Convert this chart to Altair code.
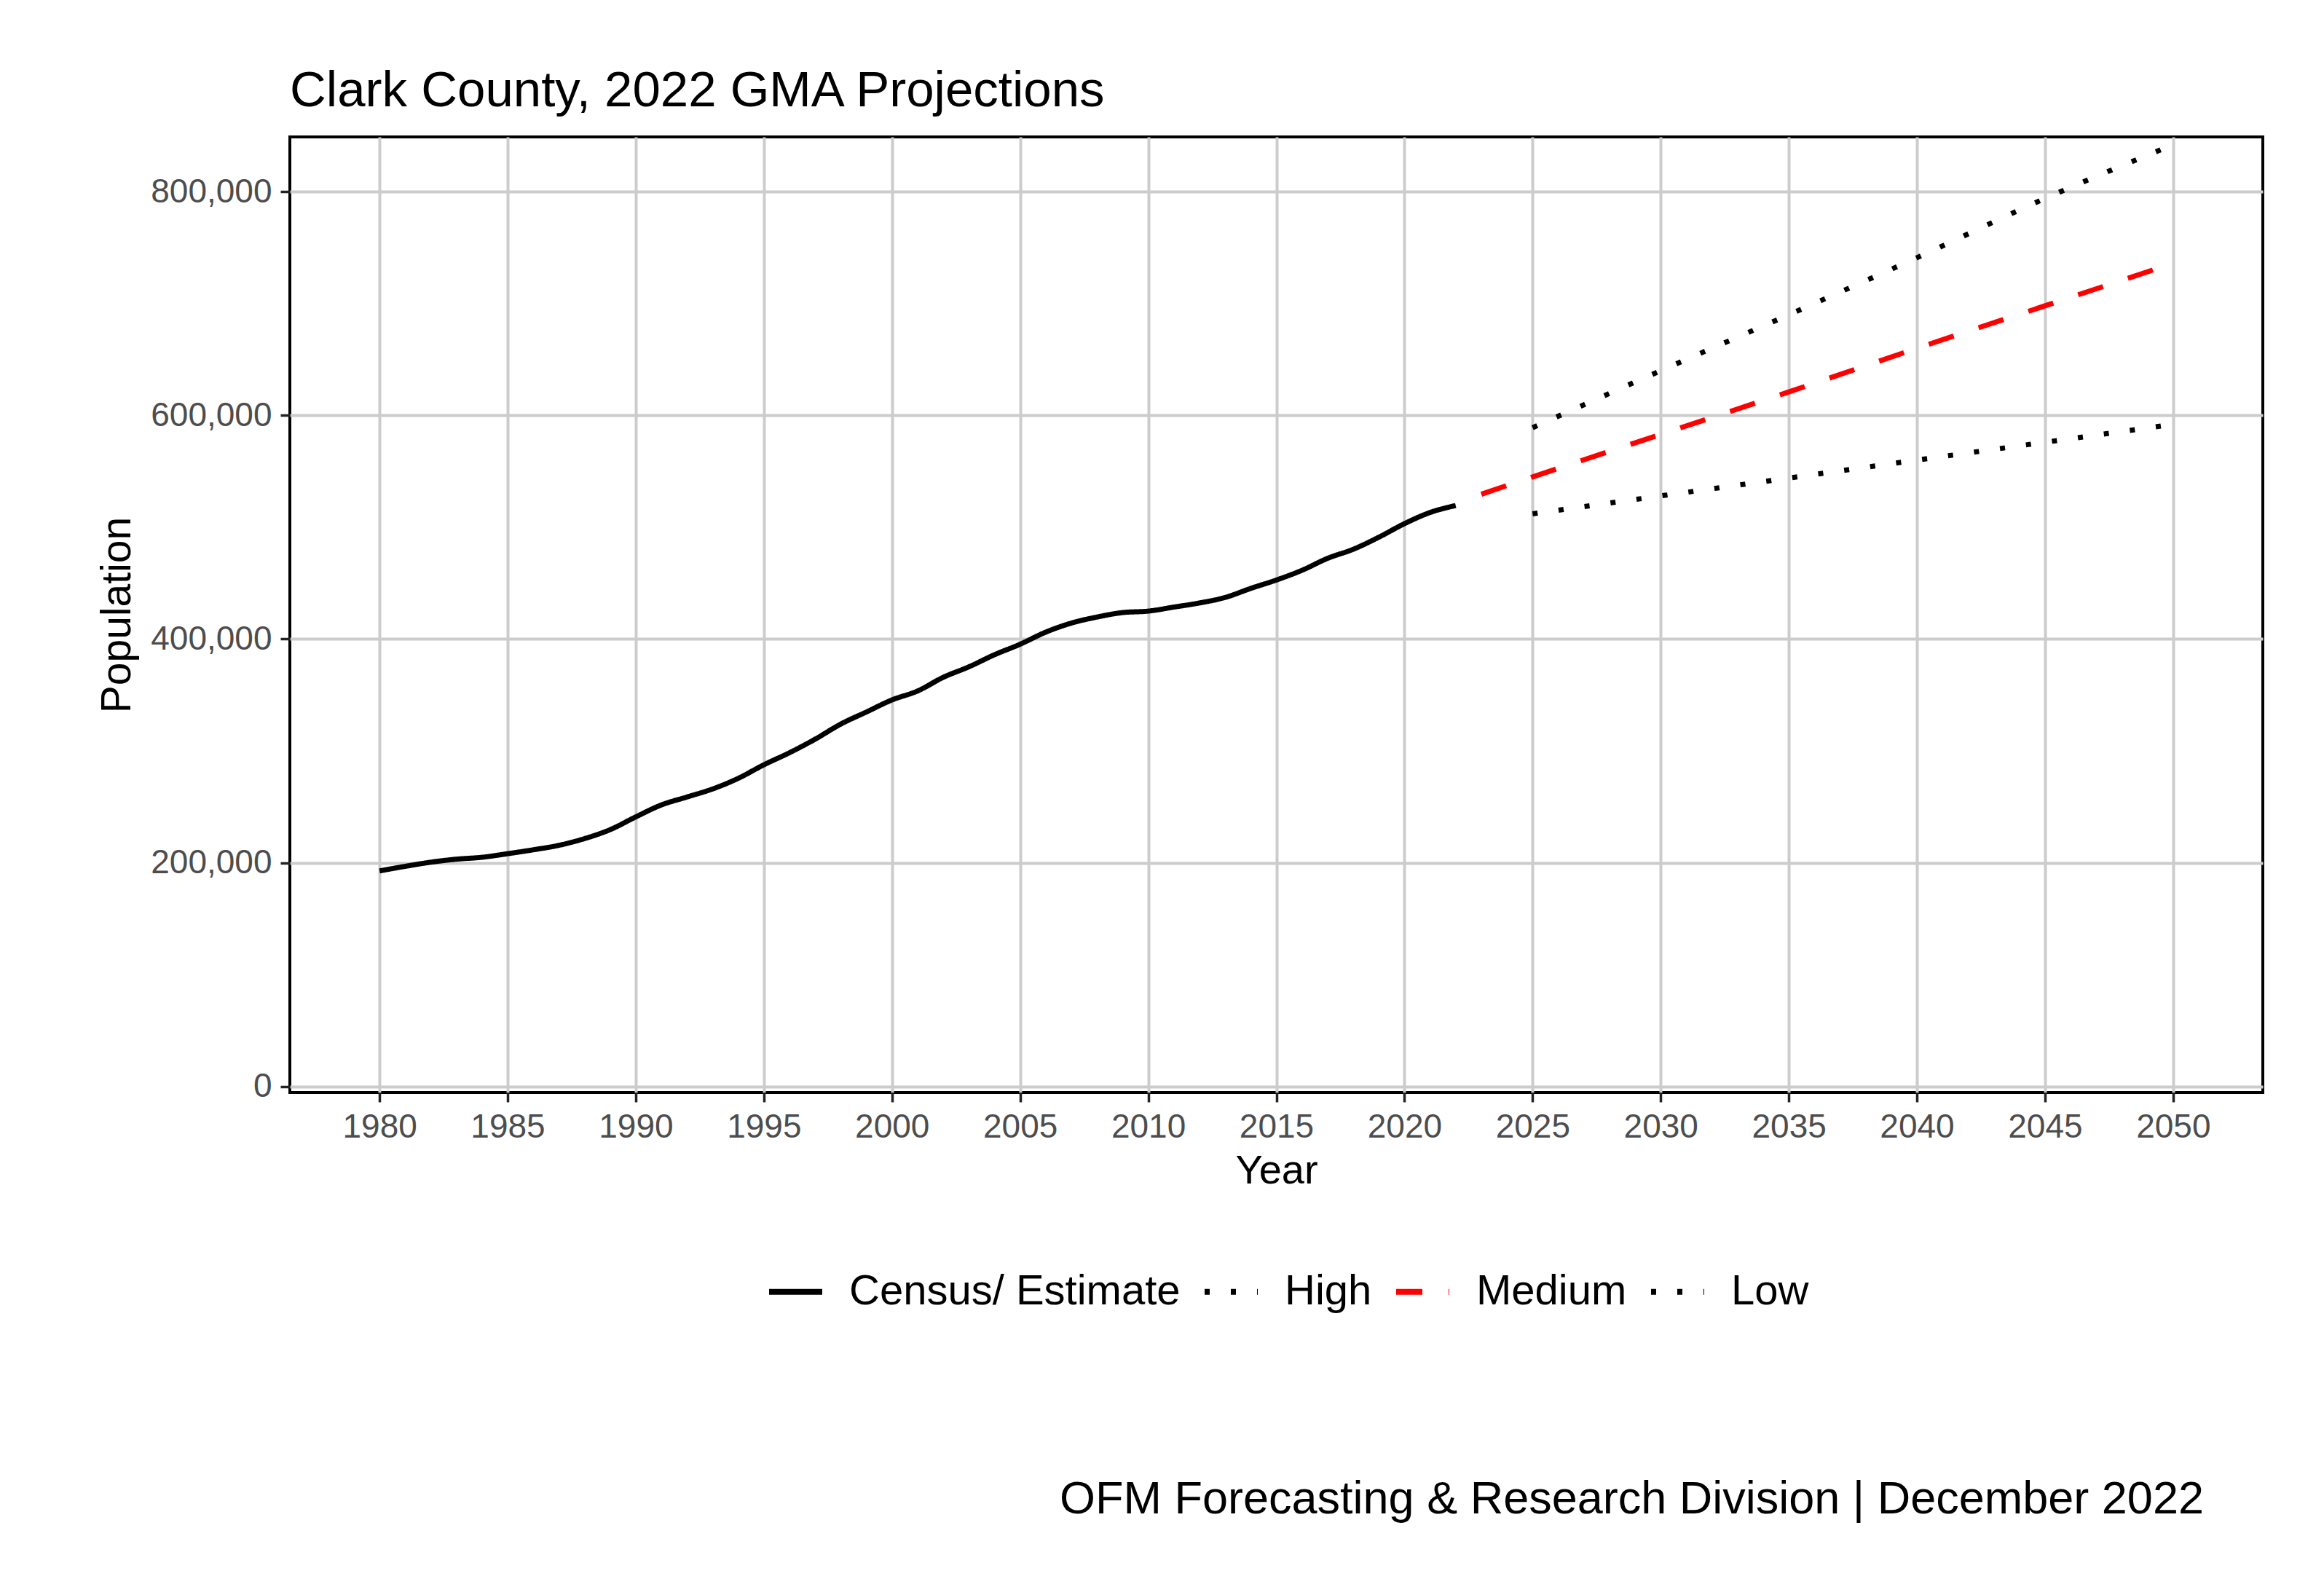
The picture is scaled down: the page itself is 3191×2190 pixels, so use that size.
import altair as alt
import pandas as pd

# ---- data ----
census_years = list(range(1980, 2023))
census_pop = [192700, 196800, 200500, 203200, 204900, 208100, 211600, 215600, 221600, 229600,
              241000, 251700, 258800, 266000, 275500, 287600, 298400, 310500, 324000, 334800,
              345600, 353600, 365800, 375200, 386000, 395400, 406200, 414300, 419700, 423700,
              425000, 428600, 432300, 437200, 445300, 452800, 461500, 472200, 480300, 491100,
              503200, 513200, 519400]

proj_years = [2025, 2030, 2035, 2040, 2045, 2050]
high_pop = [589000, 640000, 690000, 741000, 794000, 842000]
low_pop = [512000, 528000, 544000, 560000, 576000, 592000]
medium_years = [2023, 2025, 2030, 2035, 2040, 2045, 2050]
medium_pop = [529500, 545000, 583000, 621000, 660000, 698000, 736000]

series_names = ["Census/ Estimate", "High", "Medium", "Low"]
series_colors = ["#000000", "#000000", "#ff0000", "#000000"]
series_dash = [[1, 0], [7, 29], [36, 36], [7, 29]]

x_ticks = list(range(1980, 2051, 5))
y_ticks = [0, 200000, 400000, 600000, 800000]

title_text = "Clark County, 2022 GMA Projections"
footer_text = "OFM Forecasting & Research Division | December 2022"

# ---- build table ----
rows = []
for yr, p in zip(census_years, census_pop):
    rows.append({"Year": yr, "Population": p, "Series": series_names[0], "order": yr})
for yr, p in zip(proj_years, high_pop):
    rows.append({"Year": yr, "Population": p, "Series": series_names[1], "order": yr})
for yr, p in zip(medium_years, medium_pop):
    rows.append({"Year": yr, "Population": p, "Series": series_names[2], "order": yr})
for yr, p in zip(proj_years, low_pop):
    rows.append({"Year": yr, "Population": p, "Series": series_names[3], "order": yr})
df = pd.DataFrame(rows)

FONT = "Liberation Sans"
W, H = 2709, 1312

legend_def = alt.Legend(
    title=None,
    orient="none",
    legendX=654,
    legendY=1545,
    direction="horizontal",
    columns=4,
    symbolType="stroke",
    symbolSize=5329,
    symbolStrokeWidth=8,
    labelFont=FONT,
    labelFontSize=58,
    labelColor="#000000",
    labelOffset=33,
    labelLimit=2000,
    columnPadding=17,
    padding=0,
)

lines = alt.Chart(df).mark_line(strokeWidth=7, interpolate="monotone").encode(
    x=alt.X("Year:Q",
            scale=alt.Scale(domain=[1976.5, 2053.5], nice=False, zero=False),
            axis=alt.Axis(values=x_ticks, format="d", title="Year",
                          titleFontSize=56, titlePadding=10)),
    y=alt.Y("Population:Q",
            scale=alt.Scale(domain=[-5400, 849000], nice=False, zero=False),
            axis=alt.Axis(values=y_ticks, format=",d", title="Population",
                          titleFontSize=57, titlePadding=16)),
    color=alt.Color("Series:N",
                    scale=alt.Scale(domain=series_names, range=series_colors),
                    legend=legend_def),
    strokeDash=alt.StrokeDash("Series:N",
                              scale=alt.Scale(domain=series_names, range=series_dash),
                              legend=legend_def),
    order="order:Q",
)

footer = alt.Chart(pd.DataFrame({"t": [footer_text]})).mark_text(
    align="right", baseline="alphabetic", font=FONT, fontSize=63, color="#000000"
).encode(
    text="t:N",
    x=alt.value(3026 - 398),
    y=alt.value(2078 - 188),
)

chart = alt.layer(lines, footer).properties(
    width=W,
    height=H,
    title=alt.TitleParams(title_text, anchor="start", frame="group", fontSize=69, font=FONT,
                          fontWeight="normal", color="#000000",
                          baseline="alphabetic", offset=27, dy=57),
    padding={"left": 390, "top": 180, "right": 60, "bottom": 660},
    autosize=alt.AutoSizeParams(type="none"),
    background="white",
).configure_view(
    stroke="#000000", strokeWidth=4
).configure_axis(
    labelFont=FONT, labelFontSize=46, labelColor="#4d4d4d", labelPadding=12,
    tickColor="#222222", tickWidth=3.5, tickSize=13,
    domain=False,
    grid=True, gridColor="#cccccc", gridWidth=4,
    titleFont=FONT, titleFontWeight="normal", titleColor="#000000",
)

chart.save("out.html", embed_options={"renderer": "svg", "actions": False})
